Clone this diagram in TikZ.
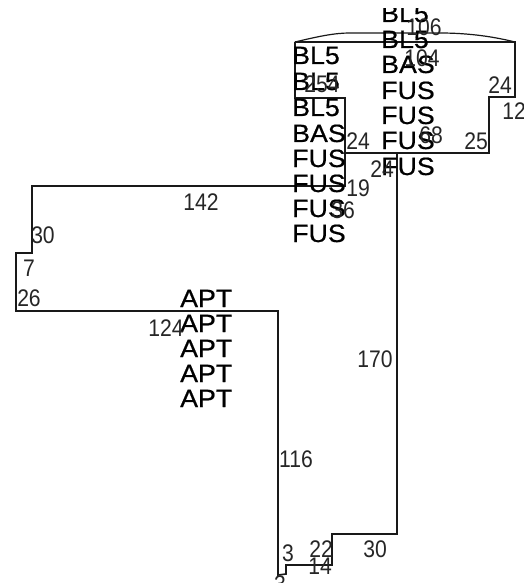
\documentclass[tikz,border=0pt]{standalone}
\usepackage{fontspec}
\setmainfont{Liberation Sans}
\newfontfamily\lblfont[FakeBold=0.6]{Liberation Sans}
\tikzset{
  x=1pt,y=-1pt,
  lbl/.style={inner sep=0pt,anchor=base west,font=\lblfont\fontsize{25}{25}\selectfont,xscale=1.07,text=black},
  num/.style={inner sep=0pt,anchor=center,font=\fontsize{24}{24}\selectfont,xscale=0.88,text=black!85},
  wire/.style={draw=black!90,line width=1.6pt,line join=miter}
}
\begin{document}
\begin{tikzpicture}
\useasboundingbox (0,0) rectangle (523,583);
\begin{scope}
\clip (0,0) rectangle (523,583);
% corners
\coordinate (a1) at (295,42); \coordinate (a2) at (515,42);
\coordinate (a3) at (515,97); \coordinate (a4) at (489,97);
\coordinate (a5) at (489,153); \coordinate (a6) at (345,153);
\coordinate (b1) at (295,98); \coordinate (b2) at (345,98);
\coordinate (b3) at (345,186); \coordinate (c1) at (32,186);
\coordinate (c2) at (32,253); \coordinate (c3) at (16,253);
\coordinate (c4) at (16,311); \coordinate (c5) at (278,311);
\coordinate (c6) at (278,575); \coordinate (d1) at (286,574);
\coordinate (d2) at (286,565); \coordinate (d3) at (332,565);
\coordinate (d4) at (332,534); \coordinate (d5) at (397,534);
\coordinate (d6) at (397,153);
\draw[wire] (a1) -- (a2) -- (a3) -- (a4) -- (a5) -- (a6);
\draw[wire] (a1) -- (b1) -- (b2) -- (b3) -- (c1) -- (c2) -- (c3) -- (c4) -- (c5) -- (c6) -- (d1) -- (d2) -- (d3) -- (d4) -- (d5) -- (d6);
\draw[wire,line width=1.2pt] (a1) .. controls (320,36) and (335,33) .. (350,33) -- (440,33) .. controls (470,33) and (495,37) .. (a2);
% left column
\node[lbl] (l1) at (292,64) {BL5};
\node[lbl] (l2) at (292,90) {BL5};
\node[lbl] (l3) at (292,116) {BL5};
\node[lbl] (l4) at (292,142) {BAS};
\node[lbl] (l5) at (292,167) {FUS};
\node[lbl] (l6) at (292,192) {FUS};
\node[lbl] (l7) at (292,217) {FUS};
\node[lbl] (l8) at (292,242) {FUS};
% right column
\node[lbl] (r1) at (381,22) {BL5};
\fill[white] (370,0) rectangle (445,8);
\node[lbl] (r2) at (381,48) {BL5};
\node[lbl] (r3) at (381,73) {BAS};
\node[lbl] (r4) at (381,99) {FUS};
\node[lbl] (r5) at (381,124) {FUS};
\node[lbl] (r6) at (381,149) {FUS};
\node[lbl] (r7) at (381,175) {FUS};
% APT column
\node[lbl] (p1) at (180,307) {APT};
\node[lbl] (p2) at (180,332) {APT};
\node[lbl] (p3) at (180,357) {APT};
\node[lbl] (p4) at (180,382) {APT};
\node[lbl] (p5) at (180,407) {APT};
% numbers
\node[num] (n106) at (424,27) {106};
\node[num] (n104) at (422,58) {104};
\node[num] (n254) at (322,84) {254};
\node[num] (n24a) at (500,85) {24};
\node[num] (n12) at (514,111) {12};
\node[num] (n25) at (476,141) {25};
\node[num] (n68) at (431,135) {68};
\node[num] (n24b) at (358,141) {24};
\node[num] (n24c) at (382,169) {24};
\node[num] (n19) at (358,188) {19};
\node[num] (n36) at (343,210) {36};
\node[num] (n142) at (201,202) {142};
\node[num] (n30a) at (43,235) {30};
\node[num] (n7) at (29,268) {7};
\node[num] (n26) at (29,298) {26};
\node[num] (n124) at (166,328) {124};
\node[num] (n170) at (375,359) {170};
\node[num] (n116) at (296,459) {116};
\node[num] (n3a) at (288,553) {3};
\node[num] (n22) at (321,549) {22};
\node[num] (n14) at (320,566) {14};
\node[num] (n30b) at (375,549) {30};
\node[num] (n3b) at (280,584) {3};
\end{scope}
\end{tikzpicture}
\end{document}
